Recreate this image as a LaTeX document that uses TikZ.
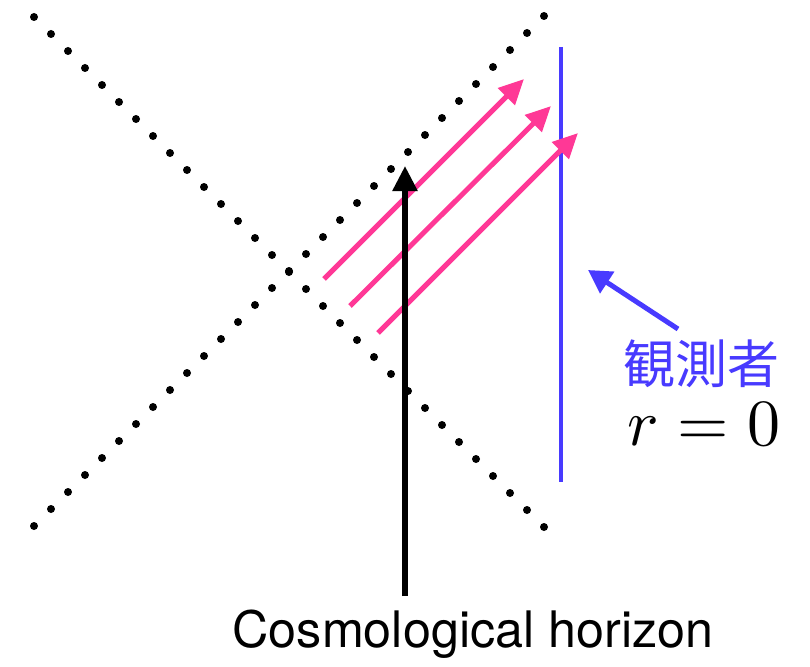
\documentclass[tikz,border=0pt]{standalone}
\usepackage{fontspec}
\newfontfamily\cjkfont{Noto Sans CJK JP}
\newfontfamily\herosfont{TeX Gyre Heros}
\usetikzlibrary{arrows.meta}
\definecolor{hpink}{RGB}{255,56,150}
\definecolor{obsblue}{RGB}{72,58,255}
\begin{document}
\begin{tikzpicture}[x=1pt,y=-1pt,
  dotstyle/.style={fill=black},
  lightray/.style={hpink,line width=5pt,-{Triangle[length=25pt,width=23pt]}},
  horizonarrow/.style={black,line width=5.5pt,-{Triangle[length=25pt,width=24pt]}},
  observer/.style={obsblue,line width=4.8pt},
  pointer/.style={obsblue,line width=5pt,-{Triangle[length=23pt,width=25pt]}},
  label/.style={inner sep=0pt}]
\useasboundingbox (0,0) rectangle (810,666);
% dotted null lines
\foreach \k in {0,...,30}{
  \fill[dotstyle] (34+17*\k,17+17*\k) circle (4pt);
  \fill[dotstyle] (34+17*\k,526-17*\k) circle (4pt);
}
% observer worldline
\coordinate (obsTop) at (561,47);
\coordinate (obsBot) at (561,482);
\draw[observer] (obsTop) -- (obsBot);
% light rays
\coordinate (r1s) at (324,279); \coordinate (r1e) at (524,79);
\coordinate (r2s) at (350,306); \coordinate (r2e) at (551,106);
\coordinate (r3s) at (378,333); \coordinate (r3e) at (578,133);
\draw[lightray] (r1s) -- (r1e);
\draw[lightray] (r2s) -- (r2e);
\draw[lightray] (r3s) -- (r3e);
% labels
\node[label,anchor=base] (hor) at (473,647) {\herosfont\fontsize{50.3}{58}\selectfont Cosmological horizon};
\coordinate (horTop) at (405,166);
\draw[horizonarrow] (405,596) -- (horTop);
\node[label,text=obsblue] (obs) at (701,364) {\cjkfont\fontsize{52}{60}\selectfont 観測者};
\node[label,anchor=base,scale=6.6] (rzero) at (704,445) {$r=0$};
\coordinate (ptrTail) at (678,329);
\coordinate (ptrTip) at (588,270);
\draw[pointer] (ptrTail) -- (ptrTip);
\end{tikzpicture}
\end{document}
